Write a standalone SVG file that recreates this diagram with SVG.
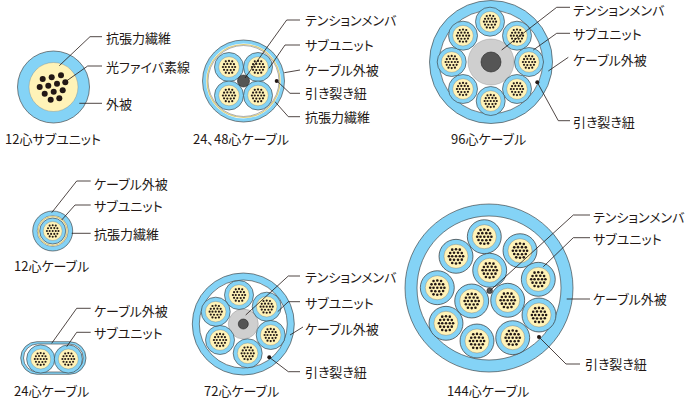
<svg xmlns="http://www.w3.org/2000/svg" width="685" height="398" viewBox="0 0 685 398">
<style>
text{font-family:"Noto Sans CJK JP","Noto Sans",sans-serif;font-size:13px;fill:#231815;font-feature-settings:"palt"}
.sheath{fill:#84d3f6;stroke:#333;stroke-width:.6}
.void{fill:#fff;stroke:#333;stroke-width:.6}
.core{fill:#fff3b8;stroke:#666;stroke-width:.3}
.ring{fill:none;stroke:#dccd7c;stroke-width:1.2}
.fiber{fill:#231815}
.gray{fill:#cfcfcf;stroke:#888;stroke-width:.4}
.dark{fill:#555;stroke:#222;stroke-width:.6}
.lead{fill:none;stroke:#231815;stroke-width:.8}
</style>
<defs>
<g id="dots" class="fiber">
<circle cx="-3.400" cy="-6" r="1.150"/><circle cx="0" cy="-6.400" r="1.150"/><circle cx="3.400" cy="-6" r="1.150"/>
<circle cx="-5.200" cy="-3" r="1.150"/><circle cx="-1.800" cy="-3.200" r="1.150"/><circle cx="1.800" cy="-3.200" r="1.150"/><circle cx="5.200" cy="-3" r="1.150"/>
<circle cx="-6.400" cy="0" r="1.150"/><circle cx="-3.400" cy="0" r="1.150"/><circle cx="0" cy="0" r="1.150"/><circle cx="3.400" cy="0" r="1.150"/><circle cx="6.400" cy="0" r="1.150"/>
<circle cx="-5.200" cy="3" r="1.150"/><circle cx="-1.800" cy="3.200" r="1.150"/><circle cx="1.800" cy="3.200" r="1.150"/><circle cx="5.200" cy="3" r="1.150"/>
<circle cx="-3.400" cy="6" r="1.150"/><circle cx="0" cy="6.400" r="1.150"/><circle cx="3.400" cy="6" r="1.150"/>
</g>
<g id="su">
<circle class="sheath" r="14.500"/>
<circle class="core" r="10.300"/>
<use href="#dots" transform="scale(.95)"/>
</g>
</defs>

<g id="unit12">
<circle class="sheath" cx="53.500" cy="87" r="36"/>
<circle class="core" cx="53.500" cy="87" r="24.500"/>
<g class="fiber">
<circle cx="42.700" cy="79" r="3"/><circle cx="51.700" cy="77.300" r="3"/><circle cx="61" cy="75.300" r="3"/>
<circle cx="39.700" cy="87" r="3"/><circle cx="48.300" cy="85.700" r="3"/><circle cx="57" cy="83.700" r="3"/><circle cx="65.300" cy="82.300" r="3"/>
<circle cx="44.700" cy="93.700" r="3"/><circle cx="53.700" cy="91.700" r="3"/><circle cx="62.700" cy="90.300" r="3"/>
<circle cx="50.700" cy="99.700" r="3"/><circle cx="59.300" cy="98.300" r="3"/>
</g>
<text x="5" y="144">12心サブユニット</text>
<text x="106" y="43">抗張力繊維</text>
<text x="106" y="71.500">光ファイバ素線</text>
<text x="106" y="108.500">外被</text>
</g>

<g id="cable24-48">
<circle class="sheath" cx="243.500" cy="81" r="41"/>
<circle cx="243.500" cy="81" r="37.500" fill="#fff"/>
<circle class="ring" cx="243.500" cy="81" r="36.500"/>
<circle cx="243.500" cy="81" r="35.500" fill="#fff" stroke="#333" stroke-width=".4"/>
<use href="#su" x="229" y="67"/><use href="#su" x="258" y="67"/><use href="#su" x="229" y="95.500"/><use href="#su" x="258" y="95.500"/>
<circle class="dark" cx="243.500" cy="81" r="6"/>
<circle class="fiber" cx="276.700" cy="81" r="2"/>
<text x="193" y="144">24、48心ケーブル</text>
<text x="305" y="24.500">テンションメンバ</text>
<text x="305" y="49.500">サブユニット</text>
<text x="305" y="74.500">ケーブル外被</text>
<text x="305" y="97.500">引き裂き紐</text>
<text x="305" y="121.500">抗張力繊維</text>
</g>

<g id="cable96">
<circle class="sheath" cx="491" cy="62" r="61.500"/>
<circle class="void" cx="491" cy="62" r="51.700"/>
<circle class="gray" cx="491" cy="62" r="23"/>
<circle class="dark" cx="491" cy="62" r="10"/>
<use href="#su" x="490" y="21.700"/><use href="#su" x="517" y="35.700"/><use href="#su" x="529" y="62"/><use href="#su" x="517" y="89"/><use href="#su" x="490.700" y="101"/><use href="#su" x="463" y="89"/><use href="#su" x="451.700" y="62"/><use href="#su" x="463" y="35.700"/>
<circle class="fiber" cx="537.300" cy="82.300" r="2"/>
<text x="451" y="144">96心ケーブル</text>
<text x="573" y="14.500">テンションメンバ</text>
<text x="573" y="39">サブユニット</text>
<text x="573" y="65">ケーブル外被</text>
<text x="573" y="126.500">引き裂き紐</text>
</g>

<g id="cable12">
<circle class="sheath" cx="52.700" cy="231" r="20"/>
<circle cx="52.700" cy="231" r="15.500" fill="#fff" stroke="#333" stroke-width=".4"/>
<circle class="ring" cx="52.700" cy="231" r="14.300"/>
<circle class="sheath" cx="52.700" cy="231" r="13"/>
<circle class="core" cx="52.700" cy="231" r="9.500"/>
<use href="#dots" transform="translate(52.700 231) scale(.9)"/>
<text x="14" y="270.500">12心ケーブル</text>
<text x="94" y="188.500">ケーブル外被</text>
<text x="94" y="210.500">サブユニット</text>
<text x="94" y="238.500">抗張力繊維</text>
</g>

<g id="cable24">
<rect class="sheath" x="20.700" y="341.700" width="65.300" height="32.600" rx="16.300"/>
<rect class="void" x="23.500" y="344" width="59.700" height="28" rx="14"/>
<use href="#su" transform="translate(40.700 359) scale(.97)"/>
<use href="#su" transform="translate(68.300 359) scale(.97)"/>
<text x="14" y="395.500">24心ケーブル</text>
<text x="94" y="315.500">ケーブル外被</text>
<text x="94" y="337.500">サブユニット</text>
</g>

<g id="cable72">
<circle class="sheath" cx="243.300" cy="324" r="51"/>
<circle class="void" cx="243.300" cy="324" r="44"/>
<circle class="gray" cx="243.300" cy="324" r="15"/>
<circle class="dark" cx="243.300" cy="324" r="5"/>
<use href="#su" x="239" y="295"/><use href="#su" x="266.700" y="306.700"/><use href="#su" x="270.700" y="335"/><use href="#su" x="247.700" y="353.300"/><use href="#su" x="220" y="340"/><use href="#su" x="215.700" y="311.700"/>
<circle class="fiber" cx="269.300" cy="357.300" r="2"/>
<text x="204" y="395.500">72心ケーブル</text>
<text x="305" y="281.500">テンションメンバ</text>
<text x="305" y="307.500">サブユニット</text>
<text x="305" y="333.500">ケーブル外被</text>
<text x="305" y="376.500">引き裂き紐</text>
</g>

<g id="cable144">
<circle class="sheath" cx="489" cy="288" r="84"/>
<circle class="void" cx="489" cy="288" r="72"/>
<use href="#su" transform="translate(484.300 236.700) scale(1.17)"/>
<use href="#su" transform="translate(520 250.700) scale(1.17)"/>
<use href="#su" transform="translate(538.300 279.300) scale(1.17)"/>
<use href="#su" transform="translate(539 315) scale(1.17)"/>
<use href="#su" transform="translate(512.700 337.700) scale(1.17)"/>
<use href="#su" transform="translate(477 341) scale(1.17)"/>
<use href="#su" transform="translate(446 323.300) scale(1.17)"/>
<use href="#su" transform="translate(437.300 287.700) scale(1.17)"/>
<use href="#su" transform="translate(456 256.300) scale(1.17)"/>
<use href="#su" transform="translate(489.700 270.300) scale(1.17)"/>
<use href="#su" transform="translate(471.700 301) scale(1.17)"/>
<use href="#su" transform="translate(507.700 300.300) scale(1.17)"/>
<circle class="dark" cx="489.700" cy="290.700" r="2.800"/>
<circle class="fiber" cx="539" cy="337" r="2"/>
<text x="447" y="395.500">144心ケーブル</text>
<text x="593" y="221.500">テンションメンバ</text>
<text x="593" y="243.500">サブユニット</text>
<text x="593" y="303.500">ケーブル外被</text>
<text x="585" y="368.500">引き裂き紐</text>
</g>

<g id="connectors">
<polyline class="lead" points="59.300,65.700 90,36.700 102,36.700"/>
<polyline class="lead" points="65,82 87.700,66 102,66"/>
<polyline class="lead" points="79.300,103.300 102,103.300"/>
<polyline class="lead" points="245,78 286.700,20 300,20"/>
<polyline class="lead" points="269,68.300 285,45 300,45"/>
<polyline class="lead" points="284.300,72.700 300,70"/>
<polyline class="lead" points="276.700,80.700 290,93.300 300,93.300"/>
<polyline class="lead" points="275,101.700 288.300,116.700 300,116.700"/>
<polyline class="lead" points="501.700,50 556.700,7.300 570,7.300"/>
<polyline class="lead" points="533.300,50 556.700,33.300 570,33.300"/>
<polyline class="lead" points="548.300,71 568.300,57.300"/>
<polyline class="lead" points="537.300,82.300 558.300,120.700 570,120.700"/>
<polyline class="lead" points="51.700,212.700 76.700,181 90.700,181"/>
<polyline class="lead" points="61.700,220 75,205 90.700,205"/>
<polyline class="lead" points="71.700,233.300 90.700,233.300"/>
<polyline class="lead" points="51.700,343.300 76.700,308.300 90.700,308.300"/>
<polyline class="lead" points="66.700,346.700 76.700,332.300 90.700,332.300"/>
<polyline class="lead" points="245.700,315 288.300,276 300,276"/>
<polyline class="lead" points="277.700,311.700 288.300,301.700 300,301.700"/>
<polyline class="lead" points="290,335 303,327"/>
<polyline class="lead" points="269.300,357.300 288.300,371.700 300,371.700"/>
<polyline class="lead" points="490,290.700 573.300,215 590,215"/>
<polyline class="lead" points="543.300,266.700 573.300,237.700 590,237.700"/>
<polyline class="lead" points="566.700,299 590,299"/>
<polyline class="lead" points="539,337 566,364 580,364"/>
</g>
</svg>
